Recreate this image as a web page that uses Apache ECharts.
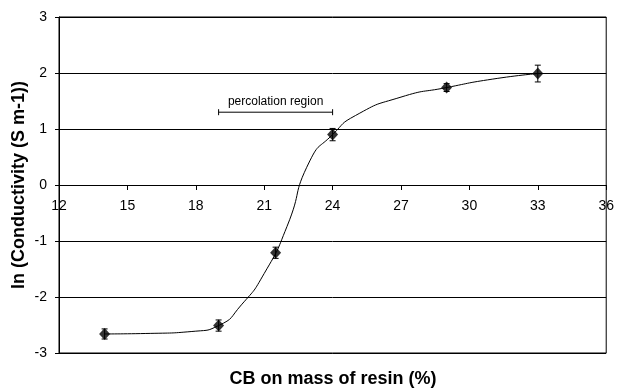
<!DOCTYPE html>
<html>
<head>
<meta charset="utf-8">
<script src="https://cdn.jsdelivr.net/npm/echarts@6/dist/echarts.min.js"></script>
<style>
  html, body { margin: 0; padding: 0; background: #fff; }
  #main { width: 617px; height: 389px; }
</style>
</head>
<body>
<div id="main"></div>
<script>
// measured points
var cbMass = [14, 19, 21.5, 24, 29, 33];
var lnCond = [-2.66, -2.51, -1.21, 0.9, 1.74, 1.99];
var lnErr = [0.09, 0.1, 0.1, 0.11, 0.07, 0.15];

// fitted curve
var curveX = [14, 16, 18, 19, 20, 21, 22, 23, 24, 25, 27, 29, 31, 33];
var curveY = [-2.66, -2.65, -2.61, -2.51, -2.14, -1.58, -0.74, 0.43, 0.9, 1.24, 1.57, 1.74, 1.89, 1.99];

// percolation region marker
var regionX = [19, 24];
var regionY = 1.3;
var regionLabel = 'percolation region';

// axes
var xMin = 12, xMax = 36, xStep = 3;
var yMin = -3, yMax = 3, yStep = 1;
var xTitle = 'CB on mass of resin (%)';
var yTitle = 'ln (Conductivity (S m-1))';

/*************************** main ***************************/
function main() {
    var myChart = echarts.init(document.getElementById('main'));
    var font = 'Liberation Sans, Arial, sans-serif';

    var option = {
        animation: false,
        backgroundColor: '#fff',
        grid: {
            left: 59, right: 10, top: 17, bottom: 36,
            show: true,
            borderColor: '#000',
            borderWidth: 1
        },
        xAxis: {
            type: 'value',
            position: 'bottom',
            offset: -168,   // x axis sits on y = 0
            min: xMin, max: xMax, interval: xStep,
            axisLine: { onZero: false, lineStyle: { color: '#000', width: 1 } },
            axisTick: { show: true, length: 5, lineStyle: { color: '#000' } },
            axisLabel: {
                color: '#000', fontSize: 14, fontFamily: font, margin: 14,
                showMinLabel: true, showMaxLabel: true
            },
            splitLine: { show: false }
        },
        yAxis: {
            type: 'value',
            min: yMin, max: yMax, interval: yStep,
            axisLine: { show: true, onZero: false, lineStyle: { color: '#000', width: 1 } },
            axisTick: { show: true, length: 4, lineStyle: { color: '#000' } },
            axisLabel: { color: '#000', fontSize: 14, fontFamily: font, margin: 12 },
            splitLine: { show: true, lineStyle: { color: '#000', width: 1 } }
        },
        graphic: [
            {
                type: 'text',
                x: 333, y: 379,
                style: {
                    text: xTitle, fill: '#000',
                    font: 'bold 18px ' + font,
                    textAlign: 'center', textVerticalAlign: 'middle'
                }
            },
            {
                type: 'text',
                x: 19, y: 185,
                rotation: Math.PI / 2,
                style: {
                    text: yTitle, fill: '#000',
                    font: 'bold 18px ' + font,
                    textAlign: 'center', textVerticalAlign: 'middle'
                }
            }
        ],
        series: [
            {
                name: 'fit',
                type: 'line',
                smooth: 0.6,
                showSymbol: false,
                symbol: 'none',
                lineStyle: { color: '#000', width: 1 },
                data: curveX.map(function (x, i) { return [x, curveY[i]]; }),
                z: 2
            },
            {
                name: 'error',
                type: 'custom',
                renderItem: function (params, api) {
                    var x = api.value(0), y = api.value(1), e = api.value(2);
                    var top = api.coord([x, y + e]);
                    var bot = api.coord([x, y - e]);
                    var w = 3;
                    var st = { stroke: '#000', lineWidth: 1 };
                    return {
                        type: 'group',
                        children: [
                            { type: 'line', shape: { x1: top[0], y1: top[1], x2: bot[0], y2: bot[1] }, style: st },
                            { type: 'line', shape: { x1: top[0] - w, y1: top[1], x2: top[0] + w, y2: top[1] }, style: st },
                            { type: 'line', shape: { x1: bot[0] - w, y1: bot[1], x2: bot[0] + w, y2: bot[1] }, style: st }
                        ]
                    };
                },
                data: cbMass.map(function (x, i) { return [x, lnCond[i], lnErr[i]]; }),
                z: 3
            },
            {
                name: 'data',
                type: 'scatter',
                symbol: 'diamond',
                symbolSize: [11, 12],
                itemStyle: { color: '#000' },
                data: cbMass.map(function (x, i) { return [x, lnCond[i]]; }),
                z: 4
            },
            {
                name: 'region',
                type: 'custom',
                renderItem: function (params, api) {
                    var a = api.coord([api.value(0), api.value(2)]);
                    var b = api.coord([api.value(1), api.value(2)]);
                    var h = 3;
                    var st = { stroke: '#000', lineWidth: 1 };
                    return {
                        type: 'group',
                        children: [
                            { type: 'line', shape: { x1: a[0], y1: a[1], x2: b[0], y2: b[1] }, style: st },
                            { type: 'line', shape: { x1: a[0], y1: a[1] - h, x2: a[0], y2: a[1] + h }, style: st },
                            { type: 'line', shape: { x1: b[0], y1: b[1] - h, x2: b[0], y2: b[1] + h }, style: st },
                            {
                                type: 'text',
                                style: {
                                    text: regionLabel,
                                    x: (a[0] + b[0]) / 2, y: a[1] - 11,
                                    fill: '#000', font: '12px ' + font,
                                    textAlign: 'center', textVerticalAlign: 'middle'
                                }
                            }
                        ]
                    };
                },
                data: [[regionX[0], regionX[1], regionY]],
                z: 3
            }
        ]
    };

    myChart.setOption(option);
}

main();
</script>
</body>
</html>
